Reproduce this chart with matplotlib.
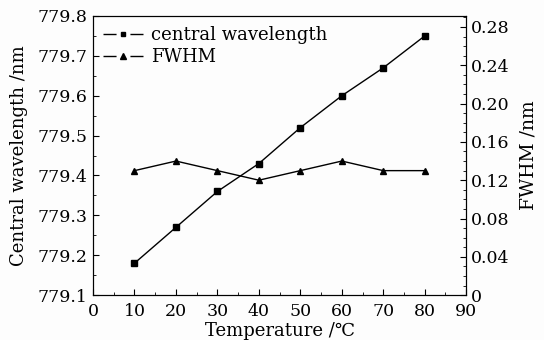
import matplotlib
matplotlib.use("Agg")
import matplotlib.pyplot as plt
from matplotlib.lines import Line2D
from matplotlib.ticker import MultipleLocator

plt.rcParams["font.family"] = ["DejaVu Serif", "DejaVu Sans"]

temperature = [10, 20, 30, 40, 50, 60, 70, 80]
central_wavelength = [779.18, 779.27, 779.36, 779.43, 779.52, 779.60, 779.67, 779.75]
fwhm = [0.13, 0.14, 0.13, 0.12, 0.13, 0.14, 0.13, 0.13]

left_ticks = [779.1, 779.2, 779.3, 779.4, 779.5, 779.6, 779.7, 779.8]
left_labels = ["779.1", "779.2", "779.3", "779.4", "779.5", "779.6", "779.7", "779.8"]
right_ticks = [0, 0.04, 0.08, 0.12, 0.16, 0.20, 0.24, 0.28]
right_labels = ["0", "0.04", "0.08", "0.12", "0.16", "0.20", "0.24", "0.28"]

bg = "#fdfdfd"
fig = plt.figure(figsize=(5.44, 3.4), dpi=100)
fig.patch.set_facecolor(bg)
ax = fig.add_axes([0.171, 0.132, 0.686, 0.821])
ax.set_facecolor(bg)
ax2 = ax.twinx()

ax.plot(temperature, central_wavelength, "-s", color="black", lw=1.0, ms=4)
ax2.plot(temperature, fwhm, "-^", color="black", lw=1.0, ms=5)

ax.set_xlim(0, 90)
ax.set_ylim(779.1, 779.8)
ax2.set_ylim(0, 0.2915)

ax.xaxis.set_major_locator(MultipleLocator(10))
ax.xaxis.set_minor_locator(MultipleLocator(5))
ax.set_yticks(left_ticks)
ax.set_yticklabels(left_labels)
ax.yaxis.set_minor_locator(MultipleLocator(0.05))
ax2.set_yticks(right_ticks)
ax2.set_yticklabels(right_labels)
ax2.yaxis.set_minor_locator(MultipleLocator(0.01))

for a in (ax, ax2):
    a.tick_params(which="both", direction="in", labelsize=12.5)
    a.tick_params(which="major", length=4)
    a.tick_params(which="minor", length=2)
ax.tick_params(axis="y", which="both", right=False, pad=4)
ax.tick_params(axis="x", which="both", top=False, pad=5.5)
ax2.tick_params(axis="y", pad=3.5)

ax.set_xlabel("Temperature /℃", fontsize=13, labelpad=1.5)
ax.set_ylabel("Central wavelength /nm", fontsize=13, labelpad=7)
ax2.set_ylabel("FWHM /nm", fontsize=13.5, labelpad=7)

# legend handles drawn as "-■-" like the original
dash = (0, (9.4, 10))
h1 = Line2D([], [], color="black", lw=1.0, ls=dash, marker="s", ms=3.5)
h2 = Line2D([], [], color="black", lw=1.0, ls=dash, marker="^", ms=4.5)
ax.legend(handles=[h1, h2], labels=["central wavelength", "FWHM"],
          loc="upper left", frameon=False, fontsize=13,
          handlelength=2.2, handletextpad=0.45, borderaxespad=0.25,
          borderpad=0.3, labelspacing=0.25)

fig.savefig("out.png", dpi=100, facecolor=fig.get_facecolor())
